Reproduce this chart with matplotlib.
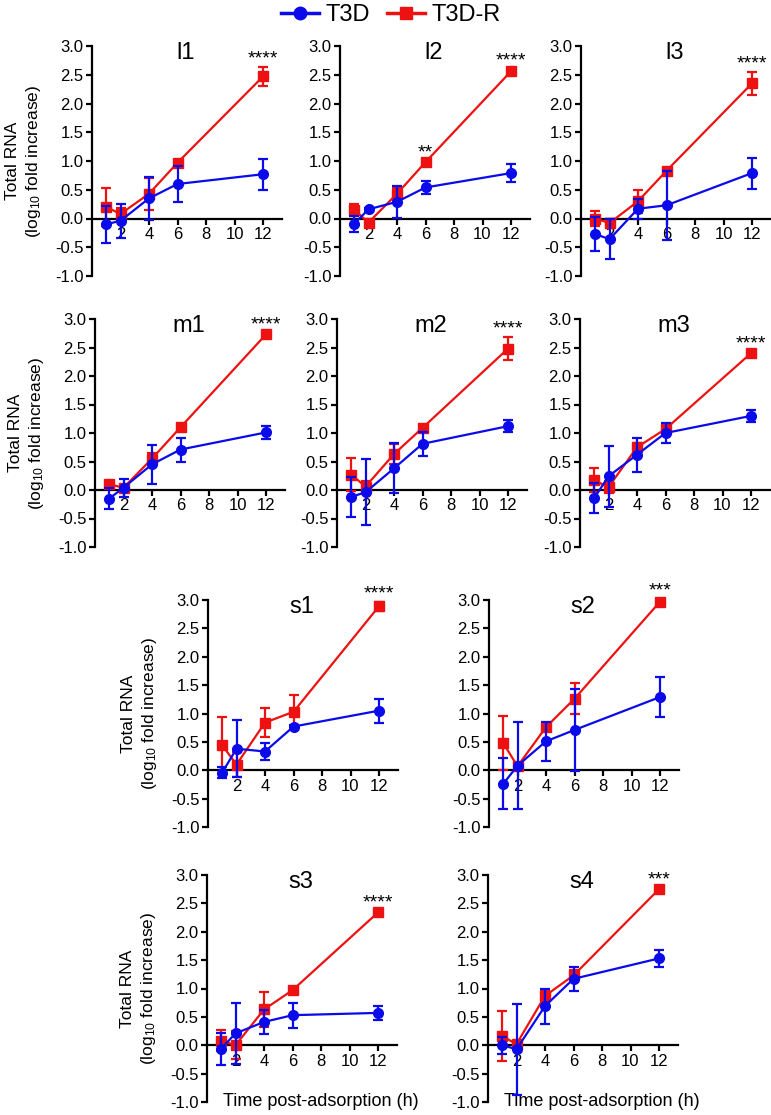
import matplotlib
matplotlib.use("Agg")
import matplotlib.pyplot as plt
from matplotlib.lines import Line2D

plt.rcParams['font.family'] = ['Liberation Sans', 'DejaVu Sans']
plt.rcParams['mathtext.default'] = 'regular'
plt.rcParams['axes.unicode_minus'] = False

# ---------------- data ----------------
hours = [1, 2, 4, 6, 12]
panel_names = ['l1', 'l2', 'l3', 'm1', 'm2', 'm3', 's1', 's2', 's3', 's4']

t3d_l1 = [-0.10, -0.04, 0.35, 0.60, 0.77]
t3d_l1_err = [0.32, 0.30, 0.37, 0.32, 0.27]
t3dr_l1 = [0.20, 0.08, 0.43, 0.97, 2.47]
t3dr_l1_err = [0.33, 0.10, 0.28, 0.05, 0.17]

t3d_l2 = [-0.09, 0.16, 0.29, 0.54, 0.79]
t3d_l2_err = [0.14, 0.03, 0.28, 0.11, 0.15]
t3dr_l2 = [0.15, -0.07, 0.43, 0.98, 2.56]
t3dr_l2_err = [0.10, 0.03, 0.10, 0.03, 0.05]

t3d_l3 = [-0.27, -0.36, 0.17, 0.23, 0.79]
t3d_l3_err = [0.30, 0.35, 0.17, 0.60, 0.27]
t3dr_l3 = [0.00, -0.08, 0.30, 0.83, 2.35]
t3dr_l3_err = [0.13, 0.08, 0.20, 0.03, 0.20]

t3d_m1 = [-0.15, 0.04, 0.45, 0.71, 1.01]
t3d_m1_err = [0.19, 0.16, 0.34, 0.21, 0.11]
t3dr_m1 = [0.10, 0.04, 0.55, 1.10, 2.73]
t3dr_m1_err = [0.02, 0.05, 0.10, 0.05, 0.03]

t3d_m2 = [-0.12, -0.04, 0.38, 0.81, 1.12]
t3d_m2_err = [0.35, 0.58, 0.44, 0.21, 0.10]
t3dr_m2 = [0.27, 0.06, 0.63, 1.09, 2.48]
t3dr_m2_err = [0.29, 0.10, 0.17, 0.03, 0.20]

t3d_m3 = [-0.14, 0.24, 0.62, 1.00, 1.30]
t3d_m3_err = [0.27, 0.54, 0.30, 0.17, 0.10]
t3dr_m3 = [0.17, 0.05, 0.75, 1.07, 2.40]
t3dr_m3_err = [0.21, 0.10, 0.07, 0.05, 0.03]

t3d_s1 = [-0.04, 0.38, 0.33, 0.77, 1.05]
t3d_s1_err = [0.10, 0.50, 0.15, 0.03, 0.21]
t3dr_s1 = [0.44, 0.10, 0.84, 1.03, 2.89]
t3dr_s1_err = [0.50, 0.22, 0.25, 0.29, 0.08]

t3d_s2 = [-0.24, 0.08, 0.51, 0.71, 1.29]
t3d_s2_err = [0.45, 0.77, 0.34, 0.72, 0.35]
t3dr_s2 = [0.48, 0.07, 0.76, 1.26, 2.97]
t3dr_s2_err = [0.48, 0.05, 0.07, 0.27, 0.05]

t3d_s3 = [-0.06, 0.21, 0.41, 0.53, 0.57]
t3d_s3_err = [0.28, 0.54, 0.21, 0.22, 0.13]
t3dr_s3 = [0.08, 0.00, 0.63, 0.97, 2.34]
t3dr_s3_err = [0.18, 0.25, 0.31, 0.03, 0.03]

t3d_s4 = [0.00, -0.07, 0.69, 1.17, 1.53]
t3d_s4_err = [0.15, 0.80, 0.31, 0.21, 0.15]
t3dr_s4 = [0.16, 0.02, 0.87, 1.23, 2.75]
t3dr_s4_err = [0.44, 0.05, 0.10, 0.10, 0.03]

# significance labels: (time index, text)
signif = {
    'l1': [(4, '****')], 'l2': [(3, '**'), (4, '****')], 'l3': [(4, '****')],
    'm1': [(4, '****')], 'm2': [(4, '****')], 'm3': [(4, '****')],
    's1': [(4, '****')], 's2': [(4, '***')], 's3': [(4, '****')], 's4': [(4, '***')],
}

series = {
    'l1': (t3d_l1, t3d_l1_err, t3dr_l1, t3dr_l1_err),
    'l2': (t3d_l2, t3d_l2_err, t3dr_l2, t3dr_l2_err),
    'l3': (t3d_l3, t3d_l3_err, t3dr_l3, t3dr_l3_err),
    'm1': (t3d_m1, t3d_m1_err, t3dr_m1, t3dr_m1_err),
    'm2': (t3d_m2, t3d_m2_err, t3dr_m2, t3dr_m2_err),
    'm3': (t3d_m3, t3d_m3_err, t3dr_m3, t3dr_m3_err),
    's1': (t3d_s1, t3d_s1_err, t3dr_s1, t3dr_s1_err),
    's2': (t3d_s2, t3d_s2_err, t3dr_s2, t3dr_s2_err),
    's3': (t3d_s3, t3d_s3_err, t3dr_s3, t3dr_s3_err),
    's4': (t3d_s4, t3d_s4_err, t3dr_s4, t3dr_s4_err),
}

# ---------------- layout (pixels) ----------------
W, H = 771, 1115
# name: (x0 pixel, top pixel (y=3), bottom pixel (y=-1), ylabel?, xlabel?)
layout = {
    'l1': (92, 46, 276, True, False),
    'l2': (340, 46, 276, False, False),
    'l3': (581, 46, 276, False, False),
    'm1': (95, 319, 547, True, False),
    'm2': (337, 319, 547, False, False),
    'm3': (580, 319, 547, False, False),
    's1': (208, 600, 827, True, False),
    's2': (489, 600, 827, False, False),
    's3': (207, 875, 1102, True, True),
    's4': (488, 875, 1102, False, True),
}
XMAX = 13.3
UNIT = 14.25

BLUE = '#0a0aeb'
RED = '#ee1111'

fig = plt.figure(figsize=(W / 100, H / 100), dpi=100)

for name in panel_names:
    x0, top, bot, ylab, xlab = layout[name]
    wpx = XMAX * UNIT
    ax = fig.add_axes([x0 / W, 1 - bot / H, wpx / W, (bot - top) / H])
    b, be, r, re = series[name]

    ax.errorbar(hours, r, yerr=re, color=RED, marker='s', markersize=7,
                linewidth=1.6, elinewidth=1.6, capsize=3.5, capthick=1.6,
                clip_on=False, zorder=3)
    ax.errorbar(hours, b, yerr=be, color=BLUE, marker='o', markersize=7,
                linewidth=1.6, elinewidth=1.6, capsize=3.5, capthick=1.6,
                clip_on=False, zorder=4)

    ax.set_xlim(0, XMAX)
    ax.set_ylim(-1, 3)
    ax.spines['top'].set_visible(False)
    ax.spines['right'].set_visible(False)
    ax.spines['bottom'].set_position(('data', 0))
    ax.spines['left'].set_linewidth(1.6)
    ax.spines['bottom'].set_linewidth(1.6)
    ax.set_xticks([2, 4, 6, 8, 10, 12])
    ax.set_xticklabels(['2', '4', '6', '8', '10', '12'])
    yt = [-1.0, -0.5, 0.0, 0.5, 1.0, 1.5, 2.0, 2.5, 3.0]
    ax.set_yticks(yt)
    ax.set_yticklabels(['%.1f' % v for v in yt])
    ax.tick_params(axis='both', direction='out', length=4, width=1.6,
                   labelsize=12, pad=2)
    ax.patch.set_alpha(0)

    ax.text(6.6, 2.88, name, ha='center', va='center', fontsize=17)

    for idx, s in signif[name]:
        top_val = r[idx] + re[idx]
        ax.text(hours[idx], top_val + 0.06, s, ha='center', va='baseline',
                fontsize=14)

    if ylab:
        fx = (x0 - 68) / W
        fy = 1 - ((top + bot) / 2) / H
        fig.text(fx, fy, 'Total RNA\n(log$_{10}$ fold increase)', rotation=90,
                 ha='center', va='center', fontsize=12.5, linespacing=1.25,
                 multialignment='center')
    if xlab:
        ax.text(8.0, -1.0, 'Time post-adsorption (h)', ha='center',
                va='center', fontsize=13)

handles = [
    Line2D([0], [0], color=BLUE, marker='o', markersize=9, linewidth=2.5),
    Line2D([0], [0], color=RED, marker='s', markersize=9, linewidth=2.5),
]
fig.legend(handles, ['T3D', 'T3D-R'], loc='center', bbox_to_anchor=(0.507, 1 - 15 / H),
           ncol=2, frameon=False, fontsize=17, handlelength=1.6,
           handletextpad=0.3, columnspacing=0.7, borderpad=0)

fig.savefig('out.png', dpi=100)
